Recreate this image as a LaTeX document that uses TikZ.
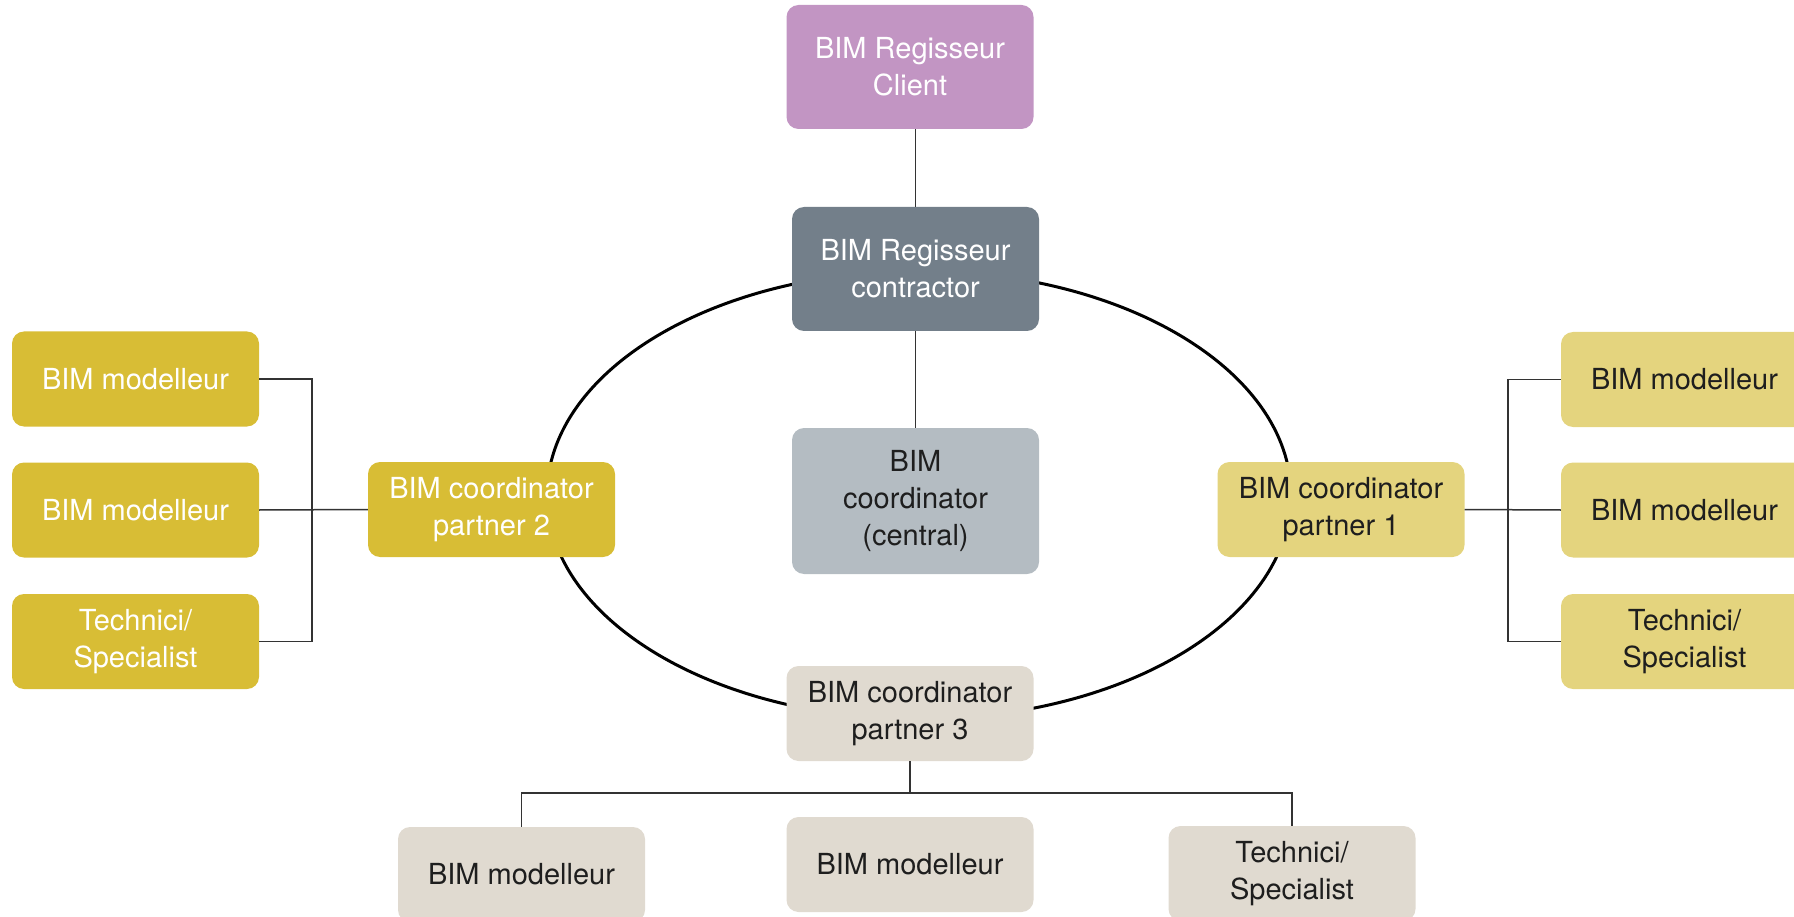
\documentclass[tikz,border=0pt]{standalone}
\usepackage{fontspec}
\setmainfont{TeX Gyre Heros}
\definecolor{clientpurple}{HTML}{C295C3}
\definecolor{slate}{HTML}{737F8A}
\definecolor{lightslate}{HTML}{B4BCC2}
\definecolor{gold}{HTML}{D8BD35}
\definecolor{lightgold}{HTML}{E4D47E}
\definecolor{beige}{HTML}{E0DAD0}
\definecolor{ink}{HTML}{1E1E1E}
\definecolor{wire}{HTML}{333333}
\begin{document}
\begin{tikzpicture}[x=1pt,y=-1pt,
  box/.style={rectangle, rounded corners=12pt, minimum width=247pt,
    minimum height=95pt, inner sep=0pt, align=center,
    font=\fontsize{29}{37}\selectfont},
  darkbox/.style={box, text=white},
  lightbox/.style={box, text=ink},
  conn/.style={draw=wire, line width=1.5pt},
  ring/.style={draw=black, line width=3pt}]
\useasboundingbox (0,0) rectangle (1794,917);
\clip (0,0) rectangle (1794,917);

% coordination ring behind the boxes
\draw[ring] (919,495) ellipse [x radius=372, y radius=224];

% central column
\node[darkbox, fill=clientpurple, minimum height=124pt] (client) at (910,67) {BIM Regisseur\\Client};
\node[darkbox, fill=slate, minimum height=124pt] (contr) at (915.5,269) {BIM Regisseur\\contractor};
\node[lightbox, fill=lightslate, minimum height=146pt] (central) at (915.5,501) {BIM\\coordinator\\(central)};

% partner coordinators
\node[darkbox, fill=gold] (p2) at (491.5,509.5) {BIM coordinator\\partner 2};
\node[lightbox, fill=lightgold] (p1) at (1341,509.5) {BIM coordinator\\partner 1};
\node[lightbox, fill=beige] (p3) at (910,713.5) {BIM coordinator\\partner 3};

% partner 2 team
\node[darkbox, fill=gold] (L1) at (135.5,379) {BIM modelleur};
\node[darkbox, fill=gold] (L2) at (135.5,510) {BIM modelleur};
\node[darkbox, fill=gold] (L3) at (135.5,641.5) {Technici/\\Specialist};

% partner 1 team
\node[lightbox, fill=lightgold] (R1) at (1684.5,379.5) {BIM modelleur};
\node[lightbox, fill=lightgold] (R2) at (1684.5,510) {BIM modelleur};
\node[lightbox, fill=lightgold] (R3) at (1684.5,641.5) {Technici/\\Specialist};

% partner 3 team
\node[lightbox, fill=beige] (B1) at (521.5,874.5) {BIM modelleur};
\node[lightbox, fill=beige] (B2) at (910,864.5) {BIM modelleur};
\node[lightbox, fill=beige] (B3) at (1292,873.5) {Technici/\\Specialist};

% connectors
\coordinate (lb) at (312,510);
\coordinate (rb) at (1508,510);
\coordinate (bb) at (910,793);

\draw[conn] (contr.north) -- (contr.north |- client.south);
\draw[conn] (contr.south) -- (central.north);

\draw[conn] (L1.east) -- (L1.east -| lb) -- (L3.east -| lb) -- (L3.east);
\draw[conn] (L2.east) -- (p2.west);

\draw[conn] (R1.west) -- (R1.west -| rb) -- (R3.west -| rb) -- (R3.west);
\draw[conn] (p1.east) -- (R2.west);

\draw[conn] (p3.south) -- (bb);
\draw[conn] (B1.north) -- (B1.north |- bb) -- (B3.north |- bb) -- (B3.north);
\end{tikzpicture}
\end{document}
